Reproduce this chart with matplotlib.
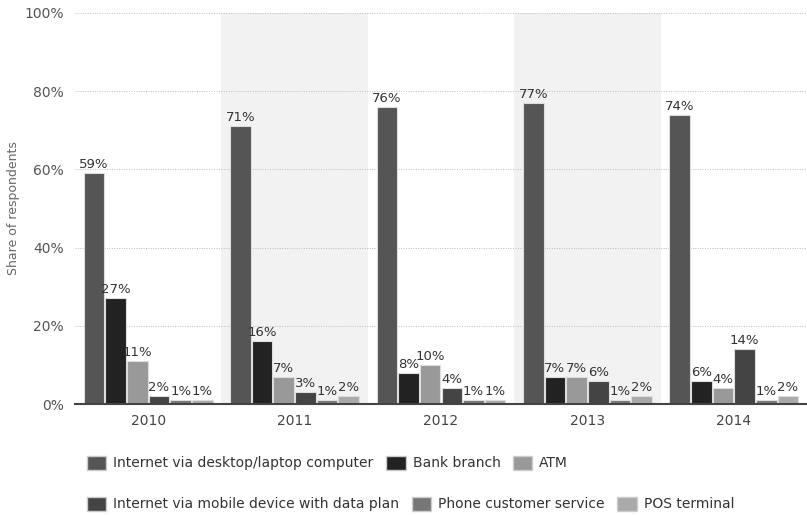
import matplotlib
matplotlib.use("Agg")
import matplotlib.pyplot as plt
import numpy as np
from matplotlib.patches import Patch

years = ["2010", "2011", "2012", "2013", "2014"]
series_names = [
    "Internet via desktop/laptop computer",
    "Bank branch",
    "ATM",
    "Internet via mobile device with data plan",
    "Phone customer service",
    "POS terminal",
]
desktop = [59, 71, 76, 77, 74]
bank = [27, 16, 8, 7, 6]
atm = [11, 7, 10, 7, 4]
mobile = [2, 3, 4, 6, 14]
phone = [1, 1, 1, 1, 1]
pos = [1, 2, 1, 2, 2]
values = [desktop, bank, atm, mobile, phone, pos]
colors = ["#555555", "#222222", "#999999", "#444444", "#777777", "#aaaaaa"]

fig = plt.figure(figsize=(8.07, 5.15), dpi=100)
ax = fig.add_axes([75/807, 1-404/515, 732/807, (404-13)/515])

n = len(years)
x = np.arange(n)
bw = 0.148
offsets = (np.arange(6) - 2.5) * bw

for i in range(n):
    if i % 2 == 1:
        ax.axvspan(i - 0.5, i + 0.5, color="#f2f2f2", zorder=0, lw=0)

for k, (vals, c) in enumerate(zip(values, colors)):
    ax.bar(x + offsets[k], vals, width=bw*0.95, color=c,
           edgecolor="#dddddd", linewidth=0.8, zorder=3)
    for xi, v in zip(x + offsets[k], vals):
        ax.text(xi, v + 0.5, f"{v}%", ha="center", va="bottom",
                fontsize=9.5, color="#333333", zorder=4)

ax.set_xlim(-0.5, n - 0.5)
ax.set_ylim(0, 100)
ax.set_yticks([0, 20, 40, 60, 80, 100])
ax.set_yticklabels([f"{t}%" for t in [0, 20, 40, 60, 80, 100]],
                   fontsize=10, color="#555555")
ax.set_xticks(x)
ax.set_xticklabels(years, fontsize=10, color="#444444")
ax.tick_params(axis="y", length=0, pad=8)
ax.tick_params(axis="x", length=0, pad=7)
ax.grid(axis="y", color="#bbbbbb", linestyle=(0, (1, 1.5)), linewidth=0.7, zorder=1)
ax.set_axisbelow(True)
for s in ["top", "right", "left"]:
    ax.spines[s].set_visible(False)
ax.spines["bottom"].set_color("#444444")
ax.spines["bottom"].set_linewidth(1.5)
ax.spines["bottom"].set_zorder(5)
ax.set_ylabel("Share of respondents", fontsize=9, color="#666666", labelpad=3)

def handles(idx):
    return [Patch(facecolor=colors[i], edgecolor="#cccccc", label=series_names[i]) for i in idx]

leg_kw = dict(ncol=3, frameon=False, fontsize=10, handlelength=1.4,
              handleheight=1.2, handletextpad=0.5, columnspacing=0.9,
              labelcolor="#333333", borderaxespad=0, borderpad=0)
l1 = fig.legend(handles=handles([0, 1, 2]), loc="center left",
                bbox_to_anchor=(87/807, 1-463/515), **leg_kw)
l2 = fig.legend(handles=handles([3, 4, 5]), loc="center left",
                bbox_to_anchor=(87/807, 1-504/515), **leg_kw)

fig.savefig("out.png", dpi=100)
